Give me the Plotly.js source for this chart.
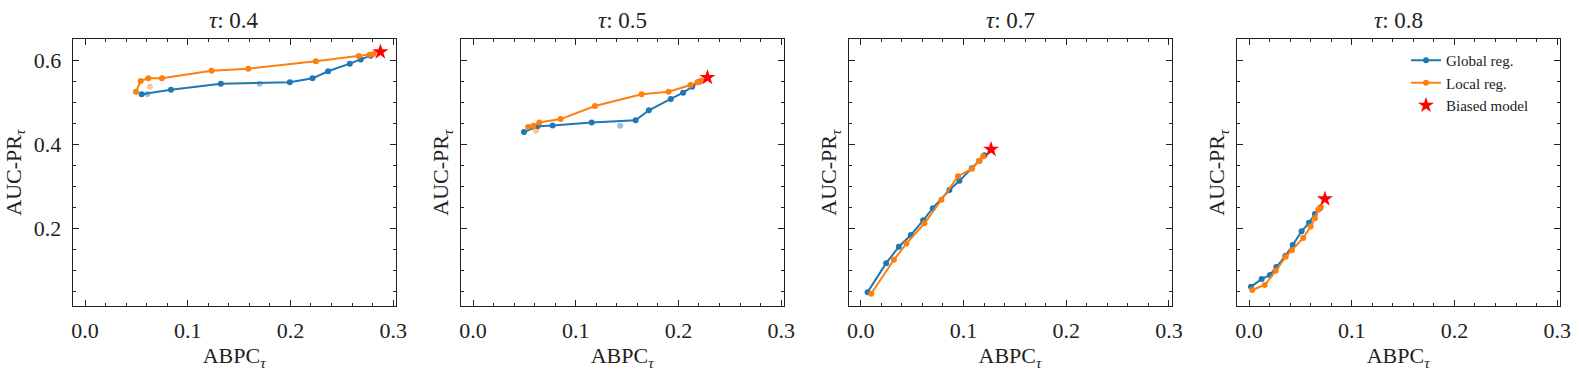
<!DOCTYPE html>
<html>
<head>
<meta charset="utf-8">
<script src="https://cdn.plot.ly/plotly-3.0.1.min.js"></script>
<style>
  html, body { margin: 0; padding: 0; background: #fff; }
  #chart { width: 1579px; height: 371px; }
</style>
</head>
<body>
<div id="chart"></div>
<script>
// one entry per tau panel
var taus = ['0.4', '0.5', '0.7', '0.8'];

// global regularisation (ABPC, AUC-PR)
var globalX = [
  [0.0551, 0.0837, 0.1323, 0.1994, 0.2215, 0.2367, 0.2578, 0.2685, 0.2780],
  [0.0496, 0.0629, 0.0775, 0.1155, 0.1583, 0.1712, 0.1926, 0.2046, 0.2134, 0.2202],
  [0.0066, 0.0247, 0.0370, 0.0487, 0.0607, 0.0701, 0.0863, 0.0960, 0.1080, 0.1155, 0.1203],
  [0.0019, 0.0123, 0.0204, 0.0266, 0.0353, 0.0425, 0.0512, 0.0584, 0.0642, 0.0691]
];
var globalY = [
  [0.519, 0.530, 0.544, 0.548, 0.557, 0.574, 0.592, 0.602, 0.611],
  [0.429, 0.443, 0.445, 0.452, 0.457, 0.481, 0.508, 0.523, 0.537, 0.549],
  [0.048, 0.117, 0.156, 0.184, 0.219, 0.248, 0.291, 0.313, 0.343, 0.361, 0.374],
  [0.061, 0.079, 0.089, 0.108, 0.134, 0.160, 0.193, 0.213, 0.234, 0.248]
];

// local regularisation
var localX = [
  [0.0496, 0.0542, 0.0616, 0.0749, 0.1232, 0.1590, 0.2247, 0.2665, 0.2770, 0.2810],
  [0.0538, 0.0587, 0.0645, 0.0853, 0.1187, 0.1641, 0.1904, 0.2118, 0.2186, 0.2225],
  [0.0101, 0.0322, 0.0445, 0.0620, 0.0785, 0.0947, 0.1084, 0.1149, 0.1190],
  [0.0032, 0.0153, 0.0260, 0.0357, 0.0418, 0.0528, 0.0600, 0.0642, 0.0674, 0.0700]
];
var localY = [
  [0.525, 0.551, 0.557, 0.557, 0.575, 0.580, 0.598, 0.610, 0.613, 0.615],
  [0.441, 0.444, 0.452, 0.460, 0.491, 0.519, 0.525, 0.541, 0.548, 0.552],
  [0.044, 0.125, 0.164, 0.212, 0.268, 0.324, 0.342, 0.360, 0.371],
  [0.053, 0.065, 0.099, 0.132, 0.148, 0.177, 0.204, 0.224, 0.244, 0.251]
];

// faint extra points
var fadedGlobalX = [[0.0606, 0.1700], [0.1433], [], []];
var fadedGlobalY = [[0.520, 0.544], [0.444], [], []];
var fadedLocalX = [[0.0632], [0.0613], [], []];
var fadedLocalY = [[0.537], [0.432], [], []];

// biased model
var biasedX = [0.2876, 0.2283, 0.1268, 0.0739];
var biasedY = [0.620, 0.559, 0.388, 0.270];

var W = 1579, H = 371;
var panelLeft = [72.7, 460.7, 848.5, 1236.7];
var panelW = 323;
var plotTop = 39.3, plotBot = 306;

var blue = '#1f77b4', orange = '#ff7f0e';
var font = 'Liberation Serif, Times New Roman, serif';

var data = [];
var layout = {
  width: W, height: H,
  margin: {l: 0, r: 0, t: 0, b: 0},
  paper_bgcolor: '#fff', plot_bgcolor: '#fff',
  font: {family: font, size: 22, color: '#000'},
  showlegend: true,
  legend: {
    x: 1406 / W, y: 1 - 44 / H, xanchor: 'left', yanchor: 'top',
    bgcolor: 'rgba(0,0,0,0)', borderwidth: 0,
    font: {family: font, size: 15, color: '#222'},
    itemwidth: 30, tracegroupgap: 0
  },
  annotations: []
};

for (var i = 0; i < 4; i++) {
  var s = i === 0 ? '' : String(i + 1);
  var xa = 'x' + s, ya = 'y' + s;

  data.push({
    x: globalX[i], y: globalY[i], xaxis: xa, yaxis: ya,
    mode: 'lines+markers', name: 'Global reg.',
    showlegend: i === 3,
    line: {color: blue, width: 2}, marker: {color: blue, size: 6}
  });
  data.push({
    x: localX[i], y: localY[i], xaxis: xa, yaxis: ya,
    mode: 'lines+markers', name: 'Local reg.',
    showlegend: i === 3,
    line: {color: orange, width: 2}, marker: {color: orange, size: 6}
  });
  data.push({
    x: fadedGlobalX[i], y: fadedGlobalY[i], xaxis: xa, yaxis: ya,
    mode: 'markers', showlegend: false, hoverinfo: 'skip',
    marker: {color: blue, size: 6, opacity: 0.45}
  });
  data.push({
    x: fadedLocalX[i], y: fadedLocalY[i], xaxis: xa, yaxis: ya,
    mode: 'markers', showlegend: false, hoverinfo: 'skip',
    marker: {color: orange, size: 6, opacity: 0.45}
  });
  data.push({
    x: [biasedX[i]], y: [biasedY[i]], xaxis: xa, yaxis: ya,
    mode: 'markers', name: 'Biased model',
    showlegend: i === 3,
    marker: {color: '#ff0000', symbol: 'star', size: 12, line: {width: 0}}
  });

  var l = panelLeft[i];
  layout['xaxis' + s] = {
    domain: [l / W, (l + panelW) / W],
    anchor: ya,
    range: [-0.012, 0.3025],
    tickmode: 'linear', tick0: 0, dtick: 0.1, tickformat: '.1f',
    ticks: 'inside', ticklen: 6, tickwidth: 1, tickcolor: '#222',
    minor: {ticks: 'inside', dtick: 0.02, ticklen: 3, tickwidth: 1, tickcolor: '#222'},
    showline: true, linecolor: '#222', linewidth: 1, mirror: 'allticks',
    showgrid: false, zeroline: false,
    ticklabelstandoff: 5,
    tickfont: {family: font, size: 22, color: '#222'},
    title: {text: 'ABPC<sub><i>τ</i></sub>', font: {family: font, size: 22, color: '#222'}, standoff: 5}
  };
  layout['yaxis' + s] = {
    domain: [1 - plotBot / H, 1 - plotTop / H],
    anchor: xa,
    range: [0.015, 0.65],
    matches: i === 0 ? undefined : 'y',
    tickmode: 'linear', tick0: 0, dtick: 0.2, tickformat: '.1f',
    showticklabels: i === 0,
    ticks: 'inside', ticklen: 6, tickwidth: 1, tickcolor: '#222',
    minor: {ticks: 'inside', dtick: 0.05, ticklen: 3, tickwidth: 1, tickcolor: '#222'},
    showline: true, linecolor: '#222', linewidth: 1, mirror: 'allticks',
    showgrid: false, zeroline: false,
    ticklabelstandoff: 6,
    tickfont: {family: font, size: 22, color: '#222'},
    title: {text: 'AUC-PR<sub><i>τ</i></sub>', font: {family: font, size: 22, color: '#222'}, standoff: i === 0 ? 6 : 4}
  };

  layout.annotations.push({
    xref: 'paper', yref: 'paper',
    x: (l + panelW / 2) / W, y: 1 - 20 / H,
    xanchor: 'center', yanchor: 'middle', showarrow: false,
    text: '<i>τ</i>: ' + taus[i],
    font: {family: font, size: 23, color: '#222'}
  });
}

Plotly.newPlot('chart', data, layout, {displayModeBar: false, staticPlot: true});
</script>
</body>
</html>
